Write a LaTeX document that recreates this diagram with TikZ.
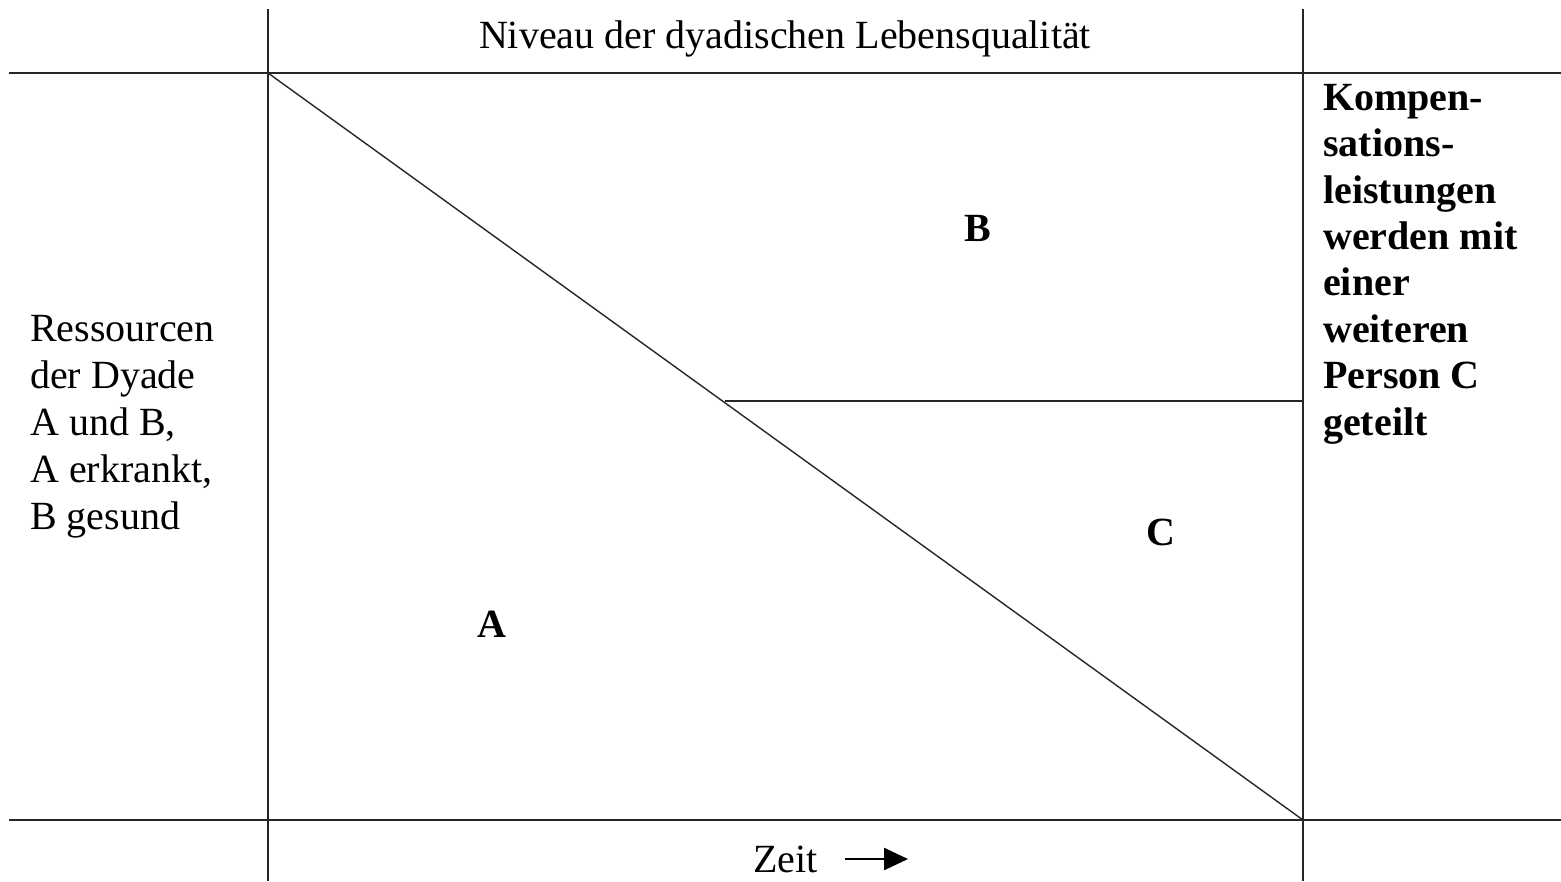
\documentclass[tikz,border=0pt]{standalone}
\usepackage{fontspec}
\setmainfont{Liberation Serif}
\usetikzlibrary{arrows.meta}
\begin{document}
\begin{tikzpicture}[x=1pt,y=-1pt,
  rule/.style={line width=1.8pt, black!85},
  txt/.style={inner sep=0pt, font=\fontsize{40}{47}\selectfont, align=left},
  btxt/.style={inner sep=0pt, font=\fontsize{40}{46.4}\selectfont\bfseries, align=left}]
\useasboundingbox (0,0) rectangle (1561,881);
% grid coordinates
\coordinate (vlt) at (268,9);
\coordinate (vlb) at (268,881);
\coordinate (vrt) at (1303,9);
\coordinate (vrb) at (1303,881);
\coordinate (htl) at (9,73);
\coordinate (htr) at (1561,73);
\coordinate (hbl) at (9,820);
\coordinate (hbr) at (1561,820);
\coordinate (tl) at (268,73);
\coordinate (br) at (1303,820);
\coordinate (ml) at (725,401);
\coordinate (mr) at (1303,401);
\draw[rule] (vlt) -- (vlb);
\draw[rule] (vrt) -- (vrb);
\draw[rule] (htl) -- (htr);
\draw[rule] (hbl) -- (hbr);
\draw[rule, line width=1.4pt] (tl) -- (br);
\draw[rule] (ml) -- (mr);
% texts
\node[txt, anchor=base] (title) at (785,48) {Niveau der dyadischen Lebensqualität};
\node[txt, anchor=base west] (left) at (30,529) {Ressourcen\\der Dyade\\A und B,\\A erkrankt,\\B gesund};
\node[btxt, anchor=base west] (right) at (1323,435) {Kompen-\\sations-\\leistungen\\werden mit\\einer\\weiteren\\Person C\\geteilt};
\node[btxt] (B) at (978,228) {B};
\node[btxt] (C) at (1161,532) {C};
\node[btxt] (A) at (492,624) {A};
\node[txt, anchor=base west] (zeit) at (753,872) {Zeit};
\coordinate (a1) at (845,859);
\coordinate (a2) at (908,859);
\draw[line width=2.6pt, -{Triangle[length=24pt,width=22pt]}] (a1) -- (a2);
\end{tikzpicture}
\end{document}
